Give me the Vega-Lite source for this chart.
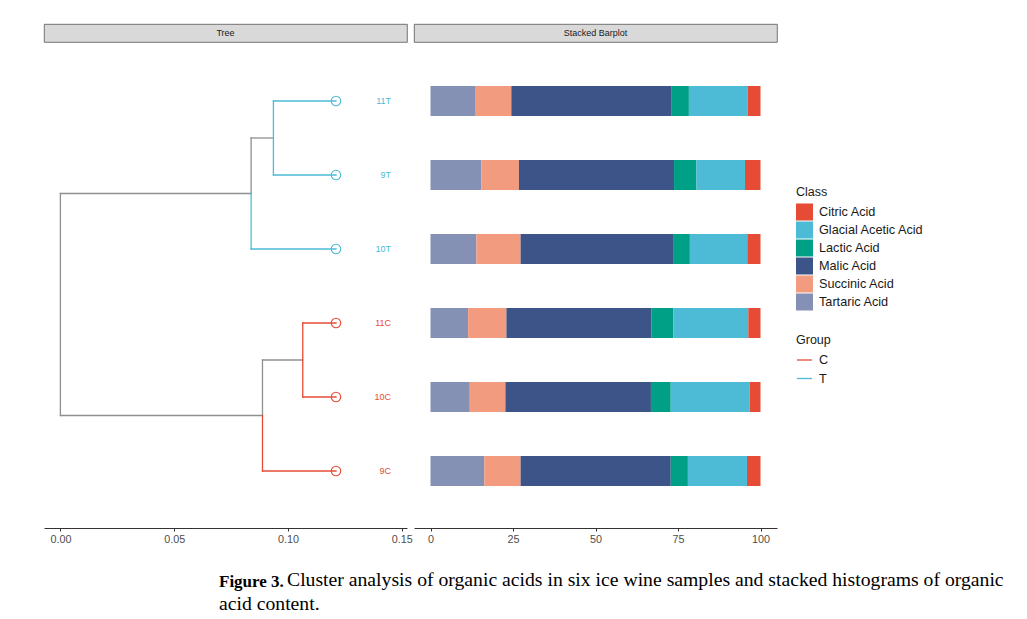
{
  "$schema": "https://vega.github.io/schema/vega-lite/v6.json",
  "background": "white",
  "padding": {"left": 43, "top": 23, "right": 0, "bottom": 0},
  "datasets": {
    "segments": [
      {"x": 0, "x2": 0, "y": 1.75, "y2": 4.75, "Group": "none"},
      {"x": 0, "x2": 0.0838, "y": 4.75, "y2": 4.75, "Group": "none"},
      {"x": 0, "x2": 0.0888, "y": 1.75, "y2": 1.75, "Group": "none"},
      {"x": 0.0838, "x2": 0.0838, "y": 4.75, "y2": 5.5, "Group": "none"},
      {"x": 0.0838, "x2": 0.0936, "y": 5.5, "y2": 5.5, "Group": "none"},
      {"x": 0.0888, "x2": 0.0888, "y": 1.75, "y2": 2.5, "Group": "none"},
      {"x": 0.0888, "x2": 0.1065, "y": 2.5, "y2": 2.5, "Group": "none"},
      {"x": 0.0838, "x2": 0.0838, "y": 4, "y2": 4.75, "Group": "T"},
      {"x": 0.0838, "x2": 0.1211, "y": 4, "y2": 4, "Group": "T"},
      {"x": 0.0936, "x2": 0.0936, "y": 5, "y2": 6, "Group": "T"},
      {"x": 0.0936, "x2": 0.1211, "y": 6, "y2": 6, "Group": "T"},
      {"x": 0.0936, "x2": 0.1211, "y": 5, "y2": 5, "Group": "T"},
      {"x": 0.0888, "x2": 0.0888, "y": 1, "y2": 1.75, "Group": "C"},
      {"x": 0.0888, "x2": 0.1211, "y": 1, "y2": 1, "Group": "C"},
      {"x": 0.1065, "x2": 0.1065, "y": 2, "y2": 3, "Group": "C"},
      {"x": 0.1065, "x2": 0.1211, "y": 3, "y2": 3, "Group": "C"},
      {"x": 0.1065, "x2": 0.1211, "y": 2, "y2": 2, "Group": "C"}
    ],
    "leaves": [
      {"label": "11T", "Group": "T", "x": 0.1211, "y": 6},
      {"label": "9T", "Group": "T", "x": 0.1211, "y": 5},
      {"label": "10T", "Group": "T", "x": 0.1211, "y": 4},
      {"label": "11C", "Group": "C", "x": 0.1211, "y": 3},
      {"label": "10C", "Group": "C", "x": 0.1211, "y": 2},
      {"label": "9C", "Group": "C", "x": 0.1211, "y": 1}
    ],
    "acids": [
      {"Sample": "11T", "Class": "Tartaric Acid", "Percent": 13.7},
      {"Sample": "11T", "Class": "Succinic Acid", "Percent": 10.8},
      {"Sample": "11T", "Class": "Malic Acid", "Percent": 48.6},
      {"Sample": "11T", "Class": "Lactic Acid", "Percent": 5.2},
      {"Sample": "11T", "Class": "Glacial Acetic Acid", "Percent": 17.8},
      {"Sample": "11T", "Class": "Citric Acid", "Percent": 3.9},
      {"Sample": "9T", "Class": "Tartaric Acid", "Percent": 15.4},
      {"Sample": "9T", "Class": "Succinic Acid", "Percent": 11.4},
      {"Sample": "9T", "Class": "Malic Acid", "Percent": 47.0},
      {"Sample": "9T", "Class": "Lactic Acid", "Percent": 6.8},
      {"Sample": "9T", "Class": "Glacial Acetic Acid", "Percent": 14.7},
      {"Sample": "9T", "Class": "Citric Acid", "Percent": 4.7},
      {"Sample": "10T", "Class": "Tartaric Acid", "Percent": 13.9},
      {"Sample": "10T", "Class": "Succinic Acid", "Percent": 13.4},
      {"Sample": "10T", "Class": "Malic Acid", "Percent": 46.2},
      {"Sample": "10T", "Class": "Lactic Acid", "Percent": 5.1},
      {"Sample": "10T", "Class": "Glacial Acetic Acid", "Percent": 17.4},
      {"Sample": "10T", "Class": "Citric Acid", "Percent": 4.0},
      {"Sample": "11C", "Class": "Tartaric Acid", "Percent": 11.4},
      {"Sample": "11C", "Class": "Succinic Acid", "Percent": 11.6},
      {"Sample": "11C", "Class": "Malic Acid", "Percent": 43.9},
      {"Sample": "11C", "Class": "Lactic Acid", "Percent": 6.7},
      {"Sample": "11C", "Class": "Glacial Acetic Acid", "Percent": 22.7},
      {"Sample": "11C", "Class": "Citric Acid", "Percent": 3.7},
      {"Sample": "10C", "Class": "Tartaric Acid", "Percent": 11.9},
      {"Sample": "10C", "Class": "Succinic Acid", "Percent": 10.8},
      {"Sample": "10C", "Class": "Malic Acid", "Percent": 44.1},
      {"Sample": "10C", "Class": "Lactic Acid", "Percent": 6.0},
      {"Sample": "10C", "Class": "Glacial Acetic Acid", "Percent": 23.9},
      {"Sample": "10C", "Class": "Citric Acid", "Percent": 3.3},
      {"Sample": "9C", "Class": "Tartaric Acid", "Percent": 16.3},
      {"Sample": "9C", "Class": "Succinic Acid", "Percent": 11.0},
      {"Sample": "9C", "Class": "Malic Acid", "Percent": 45.5},
      {"Sample": "9C", "Class": "Lactic Acid", "Percent": 5.2},
      {"Sample": "9C", "Class": "Glacial Acetic Acid", "Percent": 17.9},
      {"Sample": "9C", "Class": "Citric Acid", "Percent": 4.1}
    ]
  },
  "title": {
    "text": "acid content.",
    "orient": "bottom", "anchor": "start", "frame": "group",
    "baseline": "alphabetic",
    "font": "Liberation Serif", "fontSize": 19.7, "fontWeight": "normal", "color": "#000000",
    "dx": 175, "offset": 20
  },
  "vconcat": [
    {
      "title": {
        "text": "Cluster analysis of organic acids in six ice wine samples and stacked histograms of organic",
        "orient": "bottom", "anchor": "start", "frame": "group",
        "baseline": "alphabetic",
        "font": "Liberation Serif", "fontSize": 19.7, "fontWeight": "normal", "color": "#000000",
        "dx": 243, "offset": 0, "dy": -4
      },
      "vconcat": [
        {
          "title": {
            "text": "Figure 3.",
            "orient": "bottom", "anchor": "start", "frame": "group",
            "baseline": "alphabetic",
            "font": "Liberation Serif", "fontSize": 17, "fontWeight": "bold", "color": "#000000",
            "dx": 175, "offset": 43
          },
          "spacing": 0,
          "hconcat": [
            {
              "spacing": 1,
              "vconcat": [
                {
                  "width": 363, "height": 18,
                  "view": {"fill": "#d9d9d9", "stroke": "#555555", "strokeWidth": 0.8},
                  "data": {"values": [{"panel": "Tree"}]},
                  "mark": {"type": "text", "fontSize": 9, "color": "#1a1a1a", "font": "Liberation Sans"},
                  "encoding": {"text": {"field": "panel"}}
                },
                {
                  "width": 363, "height": 484,
                  "layer": [
                    {
                      "data": {"name": "segments"},
                      "transform": [{"filter": "datum.Group === 'none'"}],
                      "mark": {"type": "rule", "stroke": "#8f8f8f", "strokeWidth": 1.3, "strokeCap": "square"},
                      "encoding": {
                        "x": {"field": "x", "type": "quantitative",
                              "scale": {"domain": [-0.0072, 0.1523], "nice": false, "zero": false},
                              "axis": {"values": [0, 0.05, 0.1, 0.15], "format": ".2f", "title": null}},
                        "x2": {"field": "x2"},
                        "y": {"field": "y", "type": "quantitative",
                              "scale": {"domain": [0.23, 6.77], "nice": false, "zero": false},
                              "axis": null},
                        "y2": {"field": "y2"}
                      }
                    },
                    {
                      "data": {"name": "segments"},
                      "transform": [{"filter": "datum.Group !== 'none'"}],
                      "mark": {"type": "rule", "strokeWidth": 1.3, "strokeCap": "square"},
                      "encoding": {
                        "x": {"field": "x", "type": "quantitative"},
                        "x2": {"field": "x2"},
                        "y": {"field": "y", "type": "quantitative"},
                        "y2": {"field": "y2"},
                        "stroke": {
                          "field": "Group", "type": "nominal",
                          "scale": {"domain": ["C", "T"], "range": ["#E64B35", "#4DBBD5"]},
                          "legend": {
                            "title": "Group", "orient": "none", "legendX": 752, "legendY": 310,
                            "symbolType": "stroke", "symbolSize": 225, "symbolStrokeWidth": 1.3,
                            "rowPadding": 2.5, "titlePadding": 5
                          }
                        }
                      }
                    },
                    {
                      "data": {"name": "leaves"},
                      "mark": {"type": "point", "filled": false, "size": 90, "strokeWidth": 1.1, "opacity": 1},
                      "encoding": {
                        "x": {"field": "x", "type": "quantitative"},
                        "y": {"field": "y", "type": "quantitative"},
                        "color": {"field": "Group", "type": "nominal",
                                  "scale": {"domain": ["C", "T"], "range": ["#E64B35", "#4DBBD5"]},
                                  "legend": null}
                      }
                    },
                    {
                      "data": {"name": "leaves"},
                      "mark": {"type": "text", "align": "right", "baseline": "middle", "fontSize": 9, "font": "Liberation Sans"},
                      "encoding": {
                        "x": {"datum": 0.1453, "type": "quantitative"},
                        "y": {"field": "y", "type": "quantitative"},
                        "text": {"field": "label"},
                        "color": {"field": "Group", "type": "nominal", "legend": null}
                      }
                    }
                  ]
                }
              ]
            },
            {
              "spacing": 1,
              "vconcat": [
                {
                  "width": 363, "height": 18,
                  "view": {"fill": "#d9d9d9", "stroke": "#555555", "strokeWidth": 0.8},
                  "data": {"values": [{"panel": "Stacked Barplot"}]},
                  "mark": {"type": "text", "fontSize": 9, "color": "#1a1a1a", "font": "Liberation Sans"},
                  "encoding": {"text": {"field": "panel"}}
                },
                {
                  "width": 363, "height": 484,
                  "data": {"name": "acids"},
                  "mark": {"type": "bar"},
                  "encoding": {
                    "y": {"field": "Sample", "type": "nominal",
                          "sort": ["11T", "9T", "10T", "11C", "10C", "9C"],
                          "scale": {"paddingInner": 0.5946, "paddingOuter": 0.5676},
                          "axis": null},
                    "x": {"field": "Percent", "type": "quantitative", "stack": "zero",
                          "scale": {"domain": [-5, 105], "nice": false, "zero": false},
                          "axis": {"values": [0, 25, 50, 75, 100], "title": null}},
                    "fill": {
                      "field": "Class", "type": "nominal",
                      "scale": {
                        "domain": ["Citric Acid", "Glacial Acetic Acid", "Lactic Acid", "Malic Acid", "Succinic Acid", "Tartaric Acid"],
                        "range": ["#E64B35", "#4DBBD5", "#00A087", "#3C5488", "#F39B7F", "#8491B4"]
                      },
                      "legend": {
                        "title": "Class", "orient": "none", "legendX": 752, "legendY": 162,
                        "symbolType": "square", "symbolSize": 289, "symbolStrokeWidth": 0,
                        "rowPadding": 1, "titlePadding": 5
                      }
                    },
                    "order": {"field": "Class", "sort": "descending"}
                  }
                }
              ]
            }
          ]
        }
      ]
    }
  ],
  "config": {
    "font": "Liberation Sans",
    "view": {"stroke": null},
    "axis": {
      "grid": false,
      "domainColor": "#333333", "domainWidth": 1.1,
      "tickColor": "#333333", "tickSize": 3, "tickWidth": 1,
      "labelColor": "#4d4d4d", "labelFont": "Liberation Sans", "labelFontSize": 10.8, "labelPadding": 2
    },
    "legend": {
      "padding": 0,
      "titleFont": "Liberation Sans", "titleFontSize": 12.5, "titleFontWeight": "normal", "titleColor": "#1a1a1a",
      "labelFont": "Liberation Sans", "labelFontSize": 12.7, "labelColor": "#1a1a1a", "labelOffset": 6,
      "symbolOpacity": 1
    }
  }
}
